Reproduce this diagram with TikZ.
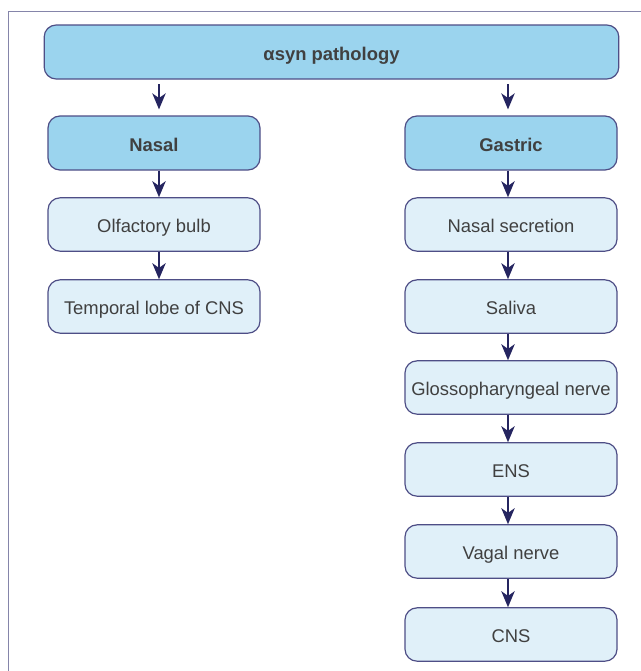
\documentclass[tikz,border=0pt]{standalone}
\usepackage{fontspec}
\setmainfont{Liberation Sans}
\usetikzlibrary{arrows.meta}
\definecolor{darkfill}{HTML}{9BD4EE}
\definecolor{lightfill}{HTML}{E0F0F9}
\definecolor{boxline}{HTML}{4E4E86}
\definecolor{arrowcol}{HTML}{252560}
\definecolor{framecol}{HTML}{8585AA}
\definecolor{txt}{HTML}{404040}
\tikzset{
  x=0.75pt, y=-0.75pt,
  basebox/.style={draw=boxline, line width=0.9pt, rounded corners=9pt,
    minimum height=40pt, inner sep=0pt, text=txt, text height=12.3pt, text depth=0pt,
    font=\fontsize{13.8pt}{16pt}\selectfont},
  darkbox/.style={basebox, fill=darkfill, minimum width=159pt, font=\fontsize{13.8pt}{16pt}\selectfont\bfseries},
  lightbox/.style={basebox, fill=lightfill, minimum width=159pt},
  flow/.style={draw=arrowcol, line width=1.5pt, -{Stealth[length=12pt, width=10pt, inset=3.5pt]}},
}
\begin{document}
\begin{tikzpicture}
\useasboundingbox (0,0) rectangle (640,671);
\fill[white] (0,0) rectangle (640,671);
\draw[framecol, line width=0.9pt] (8.7,680) -- (8.7,11.7) -- (650,11.7);

\node[darkbox, minimum width=431pt, minimum height=40.5pt] (top) at (331.5,52) {αsyn pathology};

\node[darkbox, minimum height=40.5pt] (nasal) at (154,143) {Nasal};
\node[darkbox, minimum height=40.5pt] (gastric) at (511,143) {Gastric};

\node[lightbox] (olf) at (154,224.5) {Olfactory bulb};
\node[lightbox] (temp) at (154,306.5) {Temporal lobe of CNS};

\node[lightbox] (nsec) at (511,224.5) {Nasal secretion};
\node[lightbox] (sal) at (511,306.5) {Saliva};
\node[lightbox] (glo) at (511,387.5) {Glossopharyngeal nerve};
\node[lightbox] (ens) at (511,469.5) {ENS};
\node[lightbox] (vag) at (511,551.5) {Vagal nerve};
\node[lightbox] (cns) at (511,634.5) {CNS};

\coordinate (tl) at (159,84);
\coordinate (tr) at (508,84);
\draw[flow] (tl) -- ([yshift=4.5pt]tl |- nasal.north);
\draw[flow] (tr) -- ([yshift=4.5pt]tr |- gastric.north);

\draw[flow] ([xshift=3.75pt]nasal.south) -- ([xshift=3.75pt]olf.north);
\draw[flow] ([xshift=3.75pt]olf.south) -- ([xshift=3.75pt]temp.north);

\draw[flow] ([xshift=-2.25pt]gastric.south) -- ([xshift=-2.25pt]nsec.north);
\draw[flow] ([xshift=-2.25pt]nsec.south) -- ([xshift=-2.25pt]sal.north);
\draw[flow] ([xshift=-2.25pt]sal.south) -- ([xshift=-2.25pt]glo.north);
\draw[flow] ([xshift=-2.25pt]glo.south) -- ([xshift=-2.25pt]ens.north);
\draw[flow] ([xshift=-2.25pt]ens.south) -- ([xshift=-2.25pt]vag.north);
\draw[flow] ([xshift=-2.25pt]vag.south) -- ([xshift=-2.25pt]cns.north);
\end{tikzpicture}
\end{document}
